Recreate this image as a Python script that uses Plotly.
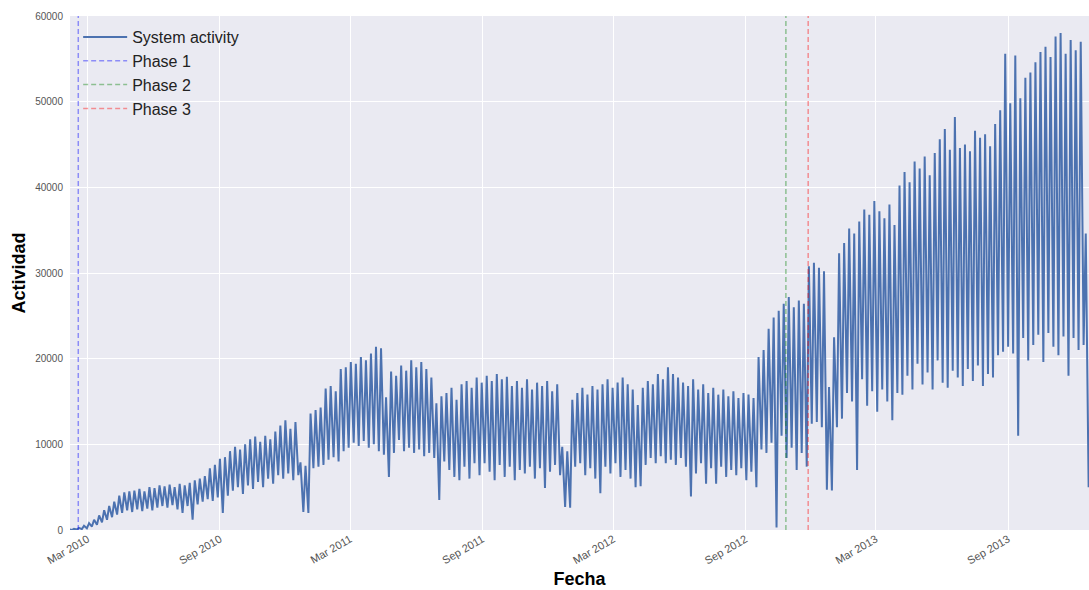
import pandas as pd
import plotly.graph_objects as go

# Weekly activity: weekday peak and weekend low for each week, starting the week of 2010-02-01
week_peaks = [
    100, 150, 250, 500, 800, 1200, 1700, 2300, 2800, 3300,
    4000, 4400, 4500, 4600, 4800, 4500, 5000, 4900, 5200, 5100,
    5300, 5000, 5400, 5200, 5500, 5800, 6000, 6300, 7200, 7600,
    8300, 8500, 9200, 9700, 9400, 10000, 10600, 10900, 10300, 11000,
    10600, 11500, 12200, 12800, 11800, 12600, 7900, 7500, 13600, 14000,
    14300, 16500, 16800, 16200, 18800, 19000, 19600, 19400, 20200, 19800,
    20600, 21400, 21200, 15500, 18500, 18000, 19200, 18600, 19800, 19000,
    19600, 18800, 17800, 14800, 15600, 16000, 16600, 15200, 17000, 17400,
    16600, 17800, 17200, 18000, 17400, 18200, 17600, 17900, 16800, 17400,
    16600, 17600, 16400, 17200, 16800, 17400, 16200, 17000, 9700, 9200,
    15200, 16000, 16600, 15800, 16800, 16400, 17000, 17600, 16600, 17200,
    17800, 17000, 16400, 14600, 16600, 17400, 17000, 18200, 17600, 19000,
    18200, 17800, 17200, 16800, 17600, 16400, 17000, 16000, 16600, 15800,
    16400, 15600, 16200, 15400, 16000, 15800, 15400, 20200, 21000, 23500,
    24800, 25600, 26400, 27200, 26000, 26800, 26400, 30800, 31200, 30600,
    30200, 16700, 22500, 32300, 33500, 35200, 34600, 36000, 37400, 36800,
    38400, 37200, 36400, 38000, 35600, 40200, 41800, 40600, 43000, 42200,
    43600, 41400, 44000, 45600, 46800, 44400, 48200, 44600, 45000, 44200,
    46600, 45800, 46200, 44800, 47400, 49000, 55600, 49800, 55400, 50400,
    52800, 53400, 54600, 55800, 56400, 55200, 57600, 58000, 55600, 57200,
    56000, 57000, 34600,
]
week_lows = [
    0, 50, 100, 200, 400, 600, 900, 1200, 1500, 1800,
    2000, 2300, 2100, 2400, 2200, 2500, 2300, 2600, 2800, 2600,
    2900, 2400, 2000, 2800, 1200, 3000, 3300, 3600, 3400, 3800,
    2000, 4000, 4600, 5000, 4200, 5200, 4800, 5600, 5000, 6000,
    5400, 6400, 6000, 6600, 5800, 6400, 2100, 2000, 7200, 7400,
    7600, 8200, 8500, 8000, 9200, 9600, 10200, 9800, 10400, 9600,
    10000, 9200, 8800, 6200, 9000, 10500, 9200, 9600, 9000, 9400,
    8600, 9000, 8400, 3500, 8000, 7000, 6200, 5800, 7400, 6000,
    7800, 6400, 7800, 6800, 5800, 7600, 6200, 7400, 5800, 7000,
    6600, 7400, 6000, 7200, 4900, 6800, 7600, 6400, 2700, 2600,
    7400, 7800, 6400, 7200, 6000, 4300, 7400, 6600, 7800, 6200,
    7000, 6000, 5000, 5100, 7600, 8400, 7800, 8600, 7800, 8200,
    7600, 8400, 7400, 3900, 6600, 7800, 5400, 7200, 5400, 7400,
    6200, 7000, 6400, 7200, 5800, 6800, 5000, 9400, 9000, 10200,
    300, 11000, 8400, 9600, 7000, 9000, 7400, 12400, 12600, 12000,
    4700, 4600, 12000, 13000, 16000, 15000, 7000, 17600, 14500, 16200,
    13800, 16400, 15000, 12800, 16000, 15800, 18000, 16400, 19400, 17000,
    18400, 16400, 19800, 17200, 16600, 18600, 17800, 16800, 18800, 17400,
    19200, 16800, 18200, 17800, 20400, 20800, 21400, 20600, 11000, 22400,
    19800, 21600, 22800, 19600, 23000, 21400, 20400, 22600, 18000, 22400,
    21000, 21600, 5000,
]

phase_names = ["Phase 1", "Phase 2", "Phase 3"]
phase_dates = ["2010-02-16", "2012-10-27", "2012-11-27"]
phase_colors = ["rgba(0,0,255,0.4)", "rgba(0,128,0,0.4)", "rgba(255,0,0,0.4)"]

tick_dates = ["2010-03-01", "2010-09-01", "2011-03-01", "2011-09-01",
              "2012-03-01", "2012-09-01", "2013-03-01", "2013-09-01"]
tick_labels = ["Mar 2010", "Sep 2010", "Mar 2011", "Sep 2011",
               "Mar 2012", "Sep 2012", "Mar 2013", "Sep 2013"]
y_ticks = [0, 10000, 20000, 30000, 40000, 50000, 60000]

# Midweek peak then weekend low, one pair per week
n_weeks = len(week_peaks)
peak_days = pd.date_range("2010-02-03", periods=n_weeks, freq="7D")
low_days = pd.date_range("2010-02-07", periods=n_weeks, freq="7D")
dates, values = [], []
for pd_, ld_, pv, lv in zip(peak_days, low_days, week_peaks, week_lows):
    dates += [pd_, ld_]
    values += [pv, lv]

fig = go.Figure()
fig.add_trace(go.Scatter(
    x=dates, y=values, mode="lines", name="System activity",
    line=dict(color="#4C72B0", width=2),
))
for name, day, color in zip(phase_names, phase_dates, phase_colors):
    fig.add_trace(go.Scatter(
        x=[day, day], y=[0, 60000], mode="lines", name=name,
        line=dict(color=color, width=1.5, dash="5px,3px"),
    ))

font_family = "Liberation Sans, Arial, sans-serif"
fig.update_layout(
    width=1089, height=590,
    margin=dict(l=70, r=0, t=16, b=60),
    paper_bgcolor="white", plot_bgcolor="#EAEAF2",
    font=dict(family=font_family, color="#444"),
    showlegend=True,
    legend=dict(
        x=0.008, y=0.992, xanchor="left", yanchor="top",
        bgcolor="rgba(0,0,0,0)", font=dict(size=16, color="#222"),
        tracegroupgap=0, itemwidth=44,
    ),
    xaxis=dict(
        type="date", range=["2010-02-04 12:00", "2013-12-22 12:00"],
        tickvals=tick_dates, ticktext=tick_labels, tickangle=-30,
        tickfont=dict(size=11, color="#555"),
        showgrid=True, gridcolor="white", gridwidth=1,
        zeroline=False, showline=False, ticks="",
        title=dict(text="<b>Fecha</b>", font=dict(size=18, color="black"), standoff=6),
    ),
    yaxis=dict(
        range=[0, 60000], tickvals=y_ticks, tickformat="d",
        tickfont=dict(size=10, color="#555"), ticklabelstandoff=6,
        showgrid=True, gridcolor="white", gridwidth=1,
        zeroline=False, showline=False, ticks="",
        title=dict(text="<b>Actividad</b>", font=dict(size=18, color="black"), standoff=4),
    ),
)

fig.write_html("out.html")
